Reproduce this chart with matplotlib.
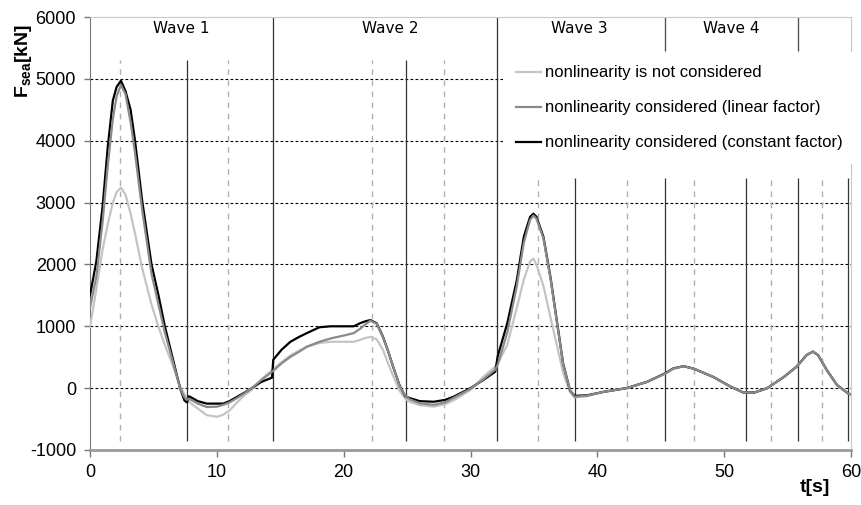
import matplotlib as mpl
import matplotlib.pyplot as plt
from matplotlib.lines import Line2D

mpl.rcParams.update({
    'font.family': ['Liberation Sans', 'DejaVu Sans'],
    'mathtext.fontset': 'custom',
    'mathtext.rm': 'Liberation Sans',
    'mathtext.bf': 'Liberation Sans:bold',
    'axes.unicode_minus': False,
})

# time [s]
t = [0, 0.5, 1.0, 1.4, 1.8, 2.1, 2.44, 2.8, 3.2, 3.55, 4.1, 4.85, 5.4, 5.9, 6.5,
     7.1, 7.45, 7.65, 7.8, 8.5, 9.2, 10.0, 10.5, 11.0, 11.6, 12.2, 12.75, 13.5,
     14.35, 14.45, 15.1, 15.8, 16.5, 17.1, 18.1, 19.0, 20.0, 20.8, 21.3, 21.7,
     22.1, 22.6, 23.1, 23.5, 23.9, 24.4, 24.85, 25.2, 26.0, 27.1, 28.0, 28.65,
     30.0, 31.0, 31.95, 32.15, 32.9, 33.65, 34.2, 34.7, 34.96, 35.2, 35.75, 36.3,
     36.8, 37.3, 37.85, 38.2, 39.2, 40.5, 42.3, 43.9, 45.35, 46.0, 46.8, 47.6,
     49.15, 50.5, 51.5, 52.4, 53.4, 54.7, 55.7, 56.5, 57.0, 57.4, 58.1, 58.9,
     59.8, 60]

# F_sea [kN], nonlinearity is not considered
f_none = [990, 1600, 2250, 2650, 3000, 3170, 3240, 3130, 2820, 2500, 1950, 1350, 990, 700, 380,
          30, -100, -180, -220, -330, -436, -463, -430, -360, -230, -110, -30, 140,
          290, 305, 420, 530, 610, 670, 730, 750, 750, 750, 780, 810,
          830, 790, 620, 400, 200, -40, -170, -220, -275, -300, -260, -200,
          -30, 180, 350, 400, 700, 1300, 1750, 2050, 2095, 2000, 1650, 1150,
          700, 250, -60, -150, -130, -60, 0, 100, 235, 315, 355, 315,
          180, 25, -70, -70, 0, 180, 345, 535, 590, 535, 290, 50,
          -90, -100]

# F_sea [kN], nonlinearity considered (linear factor)
f_linear = [1300, 1800, 2700, 3600, 4350, 4720, 4900, 4750, 4300, 3800, 2900, 1850, 1350, 900, 450,
            0, -150, -190, -170, -250, -305, -300, -270, -230, -160, -80, 0, 130,
            265, 280, 400, 505, 590, 670, 750, 805, 850, 890, 960, 1030,
            1090, 1040, 820, 600, 350, 40, -120, -180, -245, -270, -230, -160,
            -10, 140, 300, 380, 900, 1650, 2350, 2720, 2790, 2740, 2420, 1780,
            1080, 390, -40, -140, -120, -60, 0, 100, 235, 315, 355, 315,
            180, 25, -70, -70, 0, 180, 345, 535, 590, 535, 290, 50,
            -90, -100]

# F_sea [kN], nonlinearity considered (constant factor)
f_const = [1500, 2050, 2950, 3900, 4650, 4870, 4970, 4800, 4500, 4000, 3050, 2000, 1500, 1000, 500,
           0, -200, -230, -130, -210, -250, -250, -250, -210, -140, -70, 0, 100,
           170, 460, 620, 750, 830, 890, 985, 1000, 1000, 1000, 1050, 1080,
           1100, 1050, 830, 600, 345, 50, -130, -160, -210, -220, -190, -140,
           0, 130, 265, 520, 1050, 1745, 2445, 2770, 2820, 2770, 2445, 1800,
           1100, 400, -40, -125, -115, -60, 0, 100, 240, 320, 355, 315,
           180, 25, -70, -70, 0, 180, 345, 535, 590, 535, 290, 50,
           -90, -100]

series_labels = ['nonlinearity is not considered',
                 'nonlinearity considered (linear factor)',
                 'nonlinearity considered (constant factor)']

# wave boundaries / peaks
solid_t = [7.65, 14.4, 24.9, 32.1, 38.2, 45.3, 51.7, 55.8, 59.8]
solid_top = [5300, 6000, 5300, 6000, 3400, 3400, 3400, 3400, 3400]
dashed_t = [2.4, 10.9, 22.2, 27.9, 35.3, 42.3, 47.6, 53.7, 57.7]
dashed_top = [5300, 5300, 5300, 5300, 3400, 3400, 3400, 3400, 3400]
label_sep_t = [45.3, 55.8]
wave_names = ['Wave 1', 'Wave 2', 'Wave 3', 'Wave 4']
wave_x = [7.2, 23.7, 38.6, 50.55]

fig = plt.figure(figsize=(8.61, 5.05), dpi=100)
ax = fig.add_axes([90 / 861, 55 / 505, 761 / 861, 433 / 505])

ax.set_xlim(0, 60)
ax.set_ylim(-1000, 6000)
ax.set_xticks(range(0, 61, 10))
ax.set_yticks(range(-1000, 6001, 1000))

for y in range(0, 6000, 1000):
    ax.axhline(y, color='black', lw=0.8, ls=(0, (2.5, 2)), zorder=1)

ax.vlines(solid_t, -850, solid_top, color='#333333', lw=0.9, zorder=2)
ax.vlines(label_sep_t, 5450, 6000, color='#555555', lw=1.0, zorder=2)
ax.vlines(dashed_t, -850, dashed_top, color='#b0b0b0', lw=1.0,
          linestyles=(0, (4, 4)), zorder=2)

for name, x in zip(wave_names, wave_x):
    ax.text(x, 5820, name, ha='center', va='center', fontsize=11,
            family='DejaVu Sans')

ax.plot(t, f_none, color='#c4c4c4', lw=1.6, zorder=3)
ax.plot(t, f_const, color='black', lw=1.6, zorder=4)
ax.plot(t, f_linear, color='#8a8a8a', lw=1.6, zorder=5)

handles = [Line2D([], [], color=c, lw=1.6) for c in ['#c4c4c4', '#8a8a8a', 'black']]
ax.legend(handles, series_labels, loc='upper left', bbox_to_anchor=(0.5427, 0.919),
          borderaxespad=0, borderpad=0.8, labelspacing=1.2, handlelength=1.5,
          handletextpad=0.2, fontsize=12, frameon=True, facecolor='white',
          edgecolor='none', framealpha=1, fancybox=False)

for side in ['top', 'right']:
    ax.spines[side].set_color('#c8c8c8')
ax.spines['left'].set_color('#777777')
ax.spines['bottom'].set_color('#999999')
ax.spines['bottom'].set_linewidth(2)
ax.tick_params(axis='x', colors='#777777', length=5, width=1, labelcolor='black',
               labelsize=13, pad=5)
ax.tick_params(axis='y', colors='#777777', length=4, width=1, labelcolor='black',
               labelsize=13, pad=6)

fig.text(23 / 861, 1 - 61 / 505, r'$\mathbf{F_{sea}[kN]}$', rotation=90,
         ha='center', va='center', fontsize=14)
fig.text(815 / 861, 1 - 488 / 505, 't[s]', ha='center', va='center',
         fontsize=14, fontweight='bold')

fig.savefig('out.png', dpi=100)
